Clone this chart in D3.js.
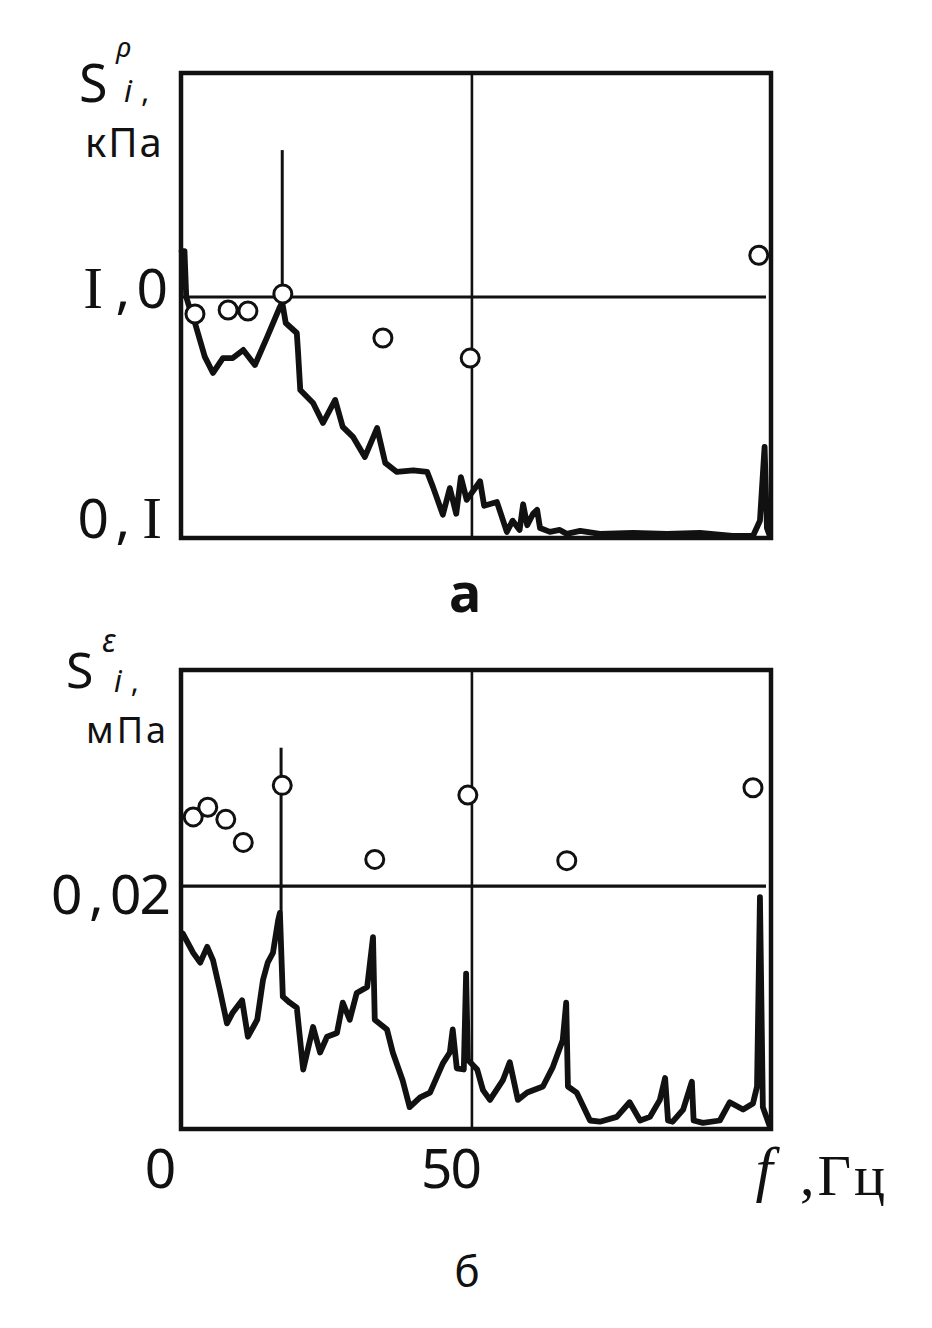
<!DOCTYPE html>
<html><head><meta charset="utf-8">
<script src="https://cdn.jsdelivr.net/npm/d3@7"></script>
<style>html,body{margin:0;padding:0;background:#fff;} svg{display:block;}</style>
</head><body>
<svg id="chart" width="932" height="1328"></svg>
<script>
// ---------------- DATA ----------------
// Panel а : pressure spectrum S_i^p, kPa (log scale), f in Hz
const curveAFreq = [0.1,0.6,0.9,1.6,2.4,4.1,5.5,7.2,8.9,10.7,12.7,14.8,17.0,17.4,18.0,19.9,20.1,20.5,22.7,24.4,26.5,27.8,29.6,31.6,33.7,35.1,37.1,39.9,42.3,43.3,45.0,46.2,47.3,48.1,49.1,51.4,52.1,54.3,56.0,57.0,58.2,58.8,59.5,60.5,61.2,61.7,63.4,65.1,66.3,68.6,72.0,77.7,83.5,89.2,94.8,98.3,99.5,100.3,100.7,101.2];
const curveAVal  = [1.55,1.55,1.0,0.88,0.78,0.564,0.484,0.558,0.558,0.603,0.522,0.682,0.909,0.95,0.78,0.709,0.60,0.411,0.363,0.300,0.374,0.289,0.262,0.217,0.286,0.205,0.188,0.191,0.188,0.163,0.125,0.161,0.126,0.179,0.144,0.172,0.136,0.141,0.106,0.118,0.108,0.138,0.113,0.126,0.131,0.110,0.106,0.108,0.104,0.107,0.104,0.105,0.104,0.105,0.102,0.102,0.118,0.239,0.110,0.102];
const spikeAFreq = [17.4];
const spikeABase = [0.95];
const spikeATop  = [4.07];
const markerAFreq = [2.4, 8.1, 11.5, 17.5, 34.7, 49.7, 99.3];
const markerAVal  = [0.85, 0.883, 0.875, 1.03, 0.676, 0.558, 1.49];
const yTicksA = [0.1, 1.0];
const yTickLabelsA = ["0,I", "I,0"];
const gridAVal = [1.0];

// Panel б : strain spectrum S_i^ε, MPa (linear), f in Hz
const curveBFreq = [0.3,2.1,3.3,4.5,5.5,6.7,7.9,8.9,10.5,11.5,13.1,14.1,14.9,15.8,16.7,17.0,17.5,18.7,19.9,21.0,22.7,23.9,25.1,26.8,27.8,29.0,30.2,32.0,33.0,33.3,35.4,36.4,38.1,39.3,41.1,42.8,45.0,46.2,46.7,47.4,48.6,49.0,49.3,50.9,51.9,53.1,55.3,56.5,57.9,59.5,62.2,63.9,65.6,66.2,66.5,68.0,70.3,72.0,74.9,77.1,78.9,80.6,82.3,83.2,83.7,84.5,86.3,87.8,88.1,89.7,92.6,94.3,96.6,98.3,99.0,99.5,100.0,101.2];
const curveBVal  = [0.0161,0.0145,0.0137,0.0150,0.0139,0.0114,0.0087,0.0096,0.0106,0.0076,0.0090,0.0123,0.0137,0.0145,0.0172,0.0178,0.0109,0.0104,0.0100,0.0049,0.0084,0.0063,0.0076,0.0079,0.0104,0.0090,0.0112,0.0117,0.0158,0.0090,0.0082,0.0063,0.0040,0.0018,0.0026,0.0030,0.0054,0.0063,0.0082,0.0050,0.0049,0.0128,0.0057,0.0049,0.0032,0.0024,0.0040,0.0055,0.0024,0.0030,0.0035,0.0051,0.0073,0.0104,0.0035,0.0030,0.0007,0.0006,0.0010,0.0022,0.0007,0.0010,0.0024,0.0042,0.0007,0.0006,0.0016,0.0039,0.0007,0.0005,0.0007,0.0022,0.0016,0.0021,0.0035,0.0191,0.0018,0.0002];
const spikeBFreq = [17.2];
const spikeBBase = [0.0178];
const spikeBTop  = [0.0314];
const markerBFreq = [2.1, 4.6, 7.7, 10.7, 17.4, 33.3, 49.3, 66.3, 98.3];
const markerBVal  = [0.0257, 0.0265, 0.0255, 0.0236, 0.0283, 0.0222, 0.0275, 0.0221, 0.0281];
const yTicksB = [0.02];
const yTickLabelsB = ["0,02"];
const gridBVal = [0.02];

const gridFreq = [50];
const xTicks = [0, 50];
const xTickLabels = ["0", "50"];

// ---------------- LAYOUT ----------------
const svg = d3.select("#chart");
svg.append("rect").attr("width",932).attr("height",1328).attr("fill","#fff");
const INK = "#111";
const SANS = "'Noto Sans', 'DejaVu Sans', sans-serif";
const SERIF = "'Liberation Serif', serif";
const DIG = 55;       // digit font size
const ADV = 29.5;     // typewriter character pitch

const x = d3.scaleLinear().domain([0, 101.4]).range([181, 771]);
const yA = d3.scaleLog().domain([0.1, 8.5]).range([538, 73]);
const yB = d3.scaleLinear().domain([0, 0.0378]).range([1129, 670]);

// typewriter-like numbers on a fixed character pitch; "I" is a serif glyph.
// align: "end" -> x0 is the right edge; "middle" -> x0 is the centre.
function typewriter(sel, x0, align) {
  sel.each(function() {
    const t = d3.select(this);
    const s = [...t.text()];
    const n = s.length;
    t.text(null).attr("text-anchor", "middle").attr("fill", INK);
    s.forEach((ch, i) => {
      const cx = align === "end" ? x0 - (n - i - 0.5) * ADV : x0 + (i - (n - 1) / 2) * ADV;
      t.append("tspan").text(ch).attr("x", cx)
        .attr("font-family", ch === "I" ? SERIF : SANS)
        .attr("font-size", ch === "I" ? DIG * 1.08 : DIG);
    });
  });
}

function panel(y, curveF, curveV, spF, spBase, spTop, mF, mV, gridV, ticks, tickLabels, nudges, labelX) {
  const g = svg.append("g");
  const [x0, x1] = x.range();
  const [yb, yt] = y.range();
  g.selectAll(".gh").data(gridV).join("line")
    .attr("x1", x0).attr("x2", x1 - 5).attr("y1", d => y(d)).attr("y2", d => y(d))
    .attr("stroke", INK).attr("stroke-width", 3.2);
  g.selectAll(".gv").data(gridFreq).join("line")
    .attr("x1", d => x(d)).attr("x2", d => x(d)).attr("y1", yt).attr("y2", yb)
    .attr("stroke", INK).attr("stroke-width", 2.6);
  g.selectAll(".sp").data(spF).join("line")
    .attr("x1", d => x(d)).attr("x2", d => x(d))
    .attr("y1", (d,i) => y(spBase[i])).attr("y2", (d,i) => y(spTop[i]))
    .attr("stroke", INK).attr("stroke-width", 3);
  const pts = curveF.map((f,i) => [f, curveV[i]]);
  g.append("path").datum(pts)
    .attr("d", d3.line().x(d => x(d[0])).y(d => y(d[1])))
    .attr("fill","none").attr("stroke", INK).attr("stroke-width", 5.8)
    .attr("stroke-linejoin","round").attr("stroke-linecap","round");
  g.append("rect").attr("x", x0).attr("y", yt).attr("width", x1 - x0).attr("height", yb - yt)
    .attr("fill","none").attr("stroke", INK).attr("stroke-width", 4.5);
  g.selectAll(".mk").data(mF).join("circle")
    .attr("cx", d => x(d)).attr("cy", (d,i) => y(mV[i])).attr("r", 9)
    .attr("fill","#fff").attr("stroke", INK).attr("stroke-width", 3);
  const ax = g.append("g").attr("transform", `translate(${x0},0)`)
    .call(d3.axisLeft(y).tickValues(ticks).tickFormat((d,i) => tickLabels[i]).tickSize(0));
  ax.select(".domain").remove();
  const tx = ax.selectAll("text");
  typewriter(tx, labelX, "end");
  tx.attr("x", null).attr("dy", null).attr("y", (d,i) => nudges[i]);
  return g;
}

panel(yA, curveAFreq, curveAVal, spikeAFreq, spikeABase, spikeATop, markerAFreq, markerAVal,
      gridAVal, yTicksA, yTickLabelsA, [-1, 11], -14);
panel(yB, curveBFreq, curveBVal, spikeBFreq, spikeBBase, spikeBTop, markerBFreq, markerBVal,
      gridBVal, yTicksB, yTickLabelsB, [27], -11);

// x axis labels (bottom panel)
const xa = svg.append("g").attr("transform", `translate(0,${yB.range()[0]})`)
  .call(d3.axisBottom(x).tickValues(xTicks).tickFormat((d,i) => xTickLabels[i]).tickSize(0));
xa.select(".domain").remove();
const xt = xa.selectAll("text");
typewriter(xt, -21, "middle");
xt.attr("x", null).attr("dy", null).attr("y", 59);

// ---------------- TEXT ----------------
function txt(xp, yp, s, size, opts = {}) {
  const t = svg.append("text").attr("x", xp).attr("y", yp).text(s)
    .attr("font-family", opts.family || SANS).attr("font-size", size).attr("fill", INK)
    .attr("text-anchor", opts.anchor || "start");
  if (opts.style) t.attr("font-style", opts.style);
  if (opts.weight) t.attr("font-weight", opts.weight);
  if (opts.ls) t.attr("letter-spacing", opts.ls);
  return t;
}
function subComma(xp, yp, size) {
  const t = txt(xp, yp, null, size);
  t.append("tspan").text("i").attr("font-style","italic");
  t.append("tspan").text(",").attr("dx", 9);
  return t;
}
// Panel а axis title
txt(79, 102, "S", 52);
txt(116, 57, "ρ", 28, {style:"italic"});
subComma(124, 102, 31);
txt(85, 157, "кПа", 40, {ls: 2});
// Panel б axis title
txt(66, 688, "S", 50);
txt(102, 652, "ε", 32, {style:"italic"});
subComma(114, 692, 30);
txt(86, 743, "мПа", 36, {ls: 3});
// panel letters
txt(465, 612, "а", 54, {anchor:"middle", weight:"bold"});
txt(467, 1287, "б", 42, {anchor:"middle"});
// frequency label
txt(764, 1190, "f", 62, {anchor:"middle", family:SERIF, style:"italic"});
txt(800, 1195, ",Гц", 58, {family:SERIF, ls: 3});
</script>
</body></html>
